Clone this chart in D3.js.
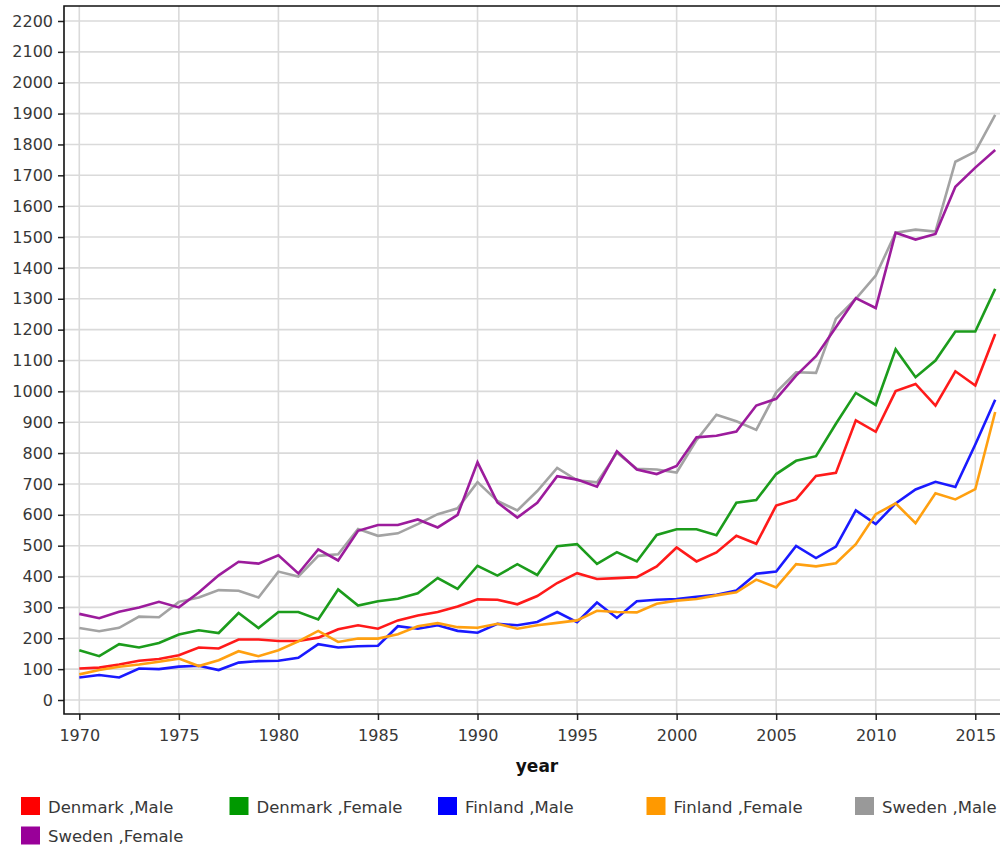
<!DOCTYPE html>
<html>
<head>
<meta charset="utf-8">
<script src="https://cdn.jsdelivr.net/npm/d3@7/dist/d3.min.js"></script>
<style>
  body { margin: 0; background: #fff; }
  svg { display: block; font-family: "DejaVu Sans", Verdana, sans-serif; }
</style>
</head>
<body>
<div id="chart"></div>
<script>
// Data (one value per year, 1970 - 2016)
const years = d3.range(1970, 2017);

const denmarkMale = [102, 105, 115, 127, 133, 145, 170, 167, 196, 196,
    191, 191, 202, 229, 242, 231, 258, 274, 285, 303,
    326, 325, 310, 337, 379, 411, 392, 395, 398, 433,
    494, 449, 478, 532, 506, 630, 650, 726, 736, 906,
    869, 1001, 1024, 954, 1065, 1019, 1186];

const denmarkFemale = [161, 142, 181, 170, 185, 212, 226, 217, 282, 233,
    285, 285, 261, 358, 306, 320, 328, 346, 395, 360,
    435, 403, 440, 405, 498, 505, 441, 479, 449, 535,
    553, 553, 534, 639, 648, 732, 775, 790, 895, 995,
    956, 1136, 1046, 1100, 1194, 1194, 1332];

const finlandMale = [73, 81, 73, 102, 100, 108, 111, 97, 121, 126,
    127, 137, 181, 170, 174, 176, 239, 231, 242, 224,
    218, 247, 242, 253, 285, 252, 316, 266, 320, 325,
    327, 334, 341, 355, 409, 416, 499, 460, 497, 614,
    570, 637, 682, 707, 690, 828, 973];

const finlandFemale = [83, 97, 108, 115, 124, 134, 110, 129, 158, 142,
    161, 190, 224, 188, 199, 199, 213, 239, 249, 236,
    234, 247, 231, 242, 250, 258, 289, 285, 284, 312,
    322, 327, 339, 349, 390, 365, 440, 433, 443, 505,
    602, 637, 573, 670, 650, 683, 933];

const swedenMale = [233, 223, 234, 270, 268, 318, 332, 356, 354, 332,
    416, 400, 467, 472, 554, 532, 540, 570, 602, 621,
    706, 645, 614, 677, 752, 712, 705, 801, 749, 747,
    737, 842, 924, 903, 875, 997, 1062, 1060, 1235, 1300,
    1375, 1514, 1524, 1518, 1744, 1777, 1896];

const swedenFemale = [279, 265, 286, 300, 318, 300, 348, 404, 448, 442,
    469, 410, 488, 452, 548, 567, 567, 585, 559, 600,
    770, 640, 591, 639, 725, 714, 691, 806, 747, 732,
    758, 851, 856, 870, 954, 976, 1051, 1114, 1208, 1302,
    1270, 1514, 1492, 1510, 1663, 1725, 1782];

const seriesNames = ["Denmark ,Male", "Denmark ,Female", "Finland ,Male",
    "Finland ,Female", "Sweden ,Male", "Sweden ,Female"];
const seriesValues = [denmarkMale, denmarkFemale, finlandMale,
    finlandFemale, swedenMale, swedenFemale];

const xTicks = [1970, 1975, 1980, 1985, 1990, 1995, 2000, 2005, 2010, 2015];
const yTicks = d3.range(0, 2201, 100);

// Colours
const lineColors = ["#ff1a1a", "#1c9c1c", "#1a1aff", "#ffa010", "#a3a3a3", "#9c1c9c"];
const swatchColors = ["#ff0000", "#009900", "#0000ff", "#ff9900", "#999999", "#990099"];
const textColor = "#383838";
const gridColor = "#dadada";

// Svg size and plot frame
const width = 1000;
const height = 847;
const frame = { left: 64, right: 1003, top: 6, bottom: 714 };

const svg = d3.select("#chart").append("svg")
    .attr("width", width)
    .attr("height", height);

// Scales
const x = d3.scaleLinear().domain([1970, 2016]).range([79.3, 995.2]);
const y = d3.scaleLinear().domain([0, 2200]).range([700, 21]);

// Grid lines
svg.append("g")
    .selectAll("line")
    .data(yTicks)
    .enter().append("line")
    .attr("x1", frame.left).attr("x2", frame.right)
    .attr("y1", d => y(d)).attr("y2", d => y(d))
    .attr("stroke", gridColor)
    .attr("stroke-width", 1.6);

svg.append("g")
    .selectAll("line")
    .data(xTicks)
    .enter().append("line")
    .attr("x1", d => x(d)).attr("x2", d => x(d))
    .attr("y1", frame.top).attr("y2", frame.bottom)
    .attr("stroke", gridColor)
    .attr("stroke-width", 1.6);

// Axes
const yAxis = svg.append("g")
    .attr("transform", "translate(" + frame.left + ",0)")
    .call(d3.axisLeft(y).tickValues(yTicks).tickFormat(d3.format("d")).tickSize(6).tickPadding(5));

const xAxis = svg.append("g")
    .attr("transform", "translate(0," + frame.bottom + ")")
    .call(d3.axisBottom(x).tickValues(xTicks).tickFormat(d3.format("d")).tickSize(6).tickPadding(10));

[yAxis, xAxis].forEach(ax => {
    ax.select(".domain").remove();
    ax.selectAll(".tick line").attr("stroke", "#222").attr("stroke-width", 1.5);
    ax.selectAll(".tick text")
        .attr("fill", textColor)
        .style("font-size", "16px")
        .style("font-family", "'DejaVu Sans', Verdana, sans-serif");
});

// Frame: left, top and bottom edges
svg.append("path")
    .attr("d", "M" + frame.right + "," + frame.top + "H" + frame.left + "V" + frame.bottom + "H" + frame.right)
    .attr("fill", "none")
    .attr("stroke", "#111")
    .attr("stroke-width", 1.6);

// Lines
const line = d3.line()
    .x((d, i) => x(years[i]))
    .y(d => y(d));

svg.append("g")
    .selectAll("path")
    .data(seriesValues)
    .enter().append("path")
    .attr("d", d => line(d))
    .attr("fill", "none")
    .attr("stroke", (d, i) => lineColors[i])
    .attr("stroke-width", 2.6);

// Axis title
svg.append("text")
    .attr("x", 537)
    .attr("y", 772)
    .attr("text-anchor", "middle")
    .attr("fill", "#111")
    .style("font-size", "17px")
    .style("font-weight", "bold")
    .text("year");

// Legend
const legend = svg.append("g")
    .selectAll("g")
    .data(seriesNames)
    .enter().append("g")
    .attr("transform", (d, i) => "translate(" + (21 + (i % 5) * 208.5) + "," + (797 + Math.floor(i / 5) * 29.5) + ")");

legend.append("rect")
    .attr("width", 19)
    .attr("height", 18)
    .attr("fill", (d, i) => swatchColors[i]);

legend.append("text")
    .attr("x", 27)
    .attr("y", 15.5)
    .attr("fill", textColor)
    .style("font-size", "16.5px")
    .text(d => d);
</script>
</body>
</html>
